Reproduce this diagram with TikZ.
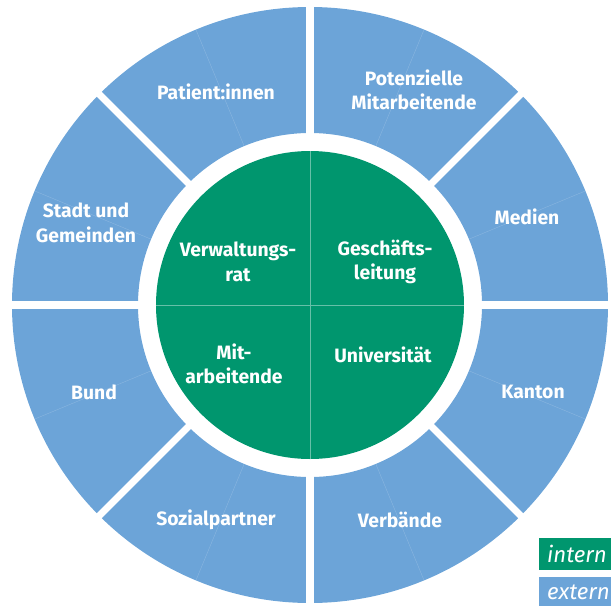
\documentclass[tikz,border=0pt]{standalone}
\usepackage{fontspec}
\setmainfont{Fira Sans}
\usetikzlibrary{positioning}
\definecolor{uniGreen}{RGB}{0,150,110}
\definecolor{extBlue}{RGB}{108,164,216}
\tikzset{
  ring label/.style = {text=white, align=center, inner sep=0pt,
    font=\fontsize{16.5}{21}\selectfont\bfseries},
  legend label/.style = {text=white, anchor=west, inner sep=0pt,
    font=\fontsize{19}{21}\selectfont\itshape}
}

\begin{document}
\begin{tikzpicture}[x=0.03cm, y=0.03cm]

  \clip (-310,-301) rectangle (301,305);

  % Outer ring (extern)
  \fill[extBlue, even odd rule] (0,0) circle (298) (0,0) circle (172);
  \foreach \a in {22.5,67.5,...,337.5}
    \draw[white, opacity=0.22, line width=0.3pt] (\a:172) -- (\a:298);
  \foreach \a in {0,45,...,315}
    \draw[white, line width=6pt] (\a:160) -- (\a:305);

  % Inner circle (intern)
  \fill[uniGreen] (0,0) circle (154);
  \draw[white, opacity=0.4, line width=0.8pt] (-154,0) -- (154,0) (0,-154) -- (0,154);

  % Outer labels
  \node[ring label] (patients) at (-94,213) {Patient:innen};
  \node[ring label] (staffpot) at (104,215) {Potenzielle\\Mitarbeitende};
  \node[ring label] (media) at (217,88) {Medien};
  \node[ring label] (canton) at (223,-87) {Kanton};
  \node[ring label] (assoc) at (90,-215) {Verbände};
  \node[ring label] (partners) at (-94,-215) {Sozialpartner};
  \node[ring label] (federal) at (-216,-87) {Bund};
  \node[ring label] (cities) at (-224,82) {Stadt und\\Gemeinden};

  % Inner labels
  \node[ring label] (board) at (-72,43) {Verwaltungs-\\rat};
  \node[ring label] (mgmt) at (75,43) {Geschäfts-\\leitung};
  \node[ring label] (staff) at (-76,-59) {Mit-\\arbeitende};
  \node[ring label] (uni) at (73,-50) {Universität};

  % Legend
  \fill[uniGreen] (229,-265) rectangle (310,-233);
  \node[legend label] (intern) at (237,-249) {intern};
  \fill[extBlue] (229,-301) rectangle (310,-272);
  \node[legend label] (extern) at (237,-287) {extern};

\end{tikzpicture}
\end{document}
